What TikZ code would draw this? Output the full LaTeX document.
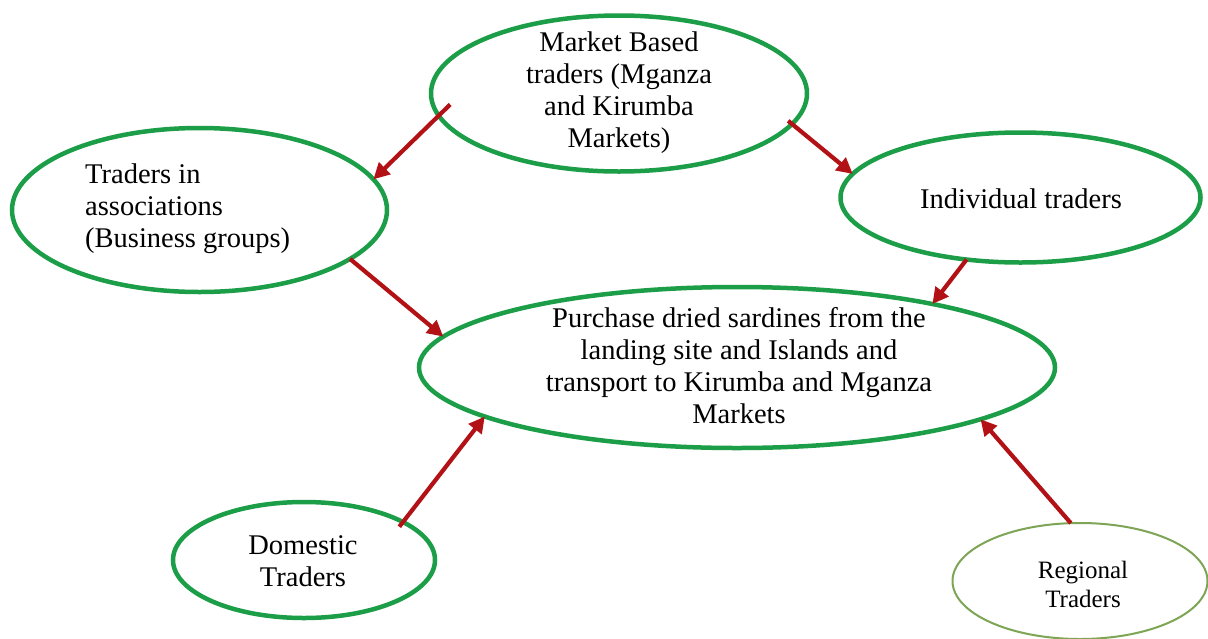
\documentclass[tikz,border=0pt]{standalone}
\usepackage{fontspec}
\setmainfont{Liberation Serif}
\usetikzlibrary{shapes.geometric,arrows.meta}
\definecolor{ovalgreen}{RGB}{28,158,72}
\definecolor{softgreen}{RGB}{125,165,85}
\definecolor{arrowred}{RGB}{178,18,22}
\begin{document}
\begin{tikzpicture}[x=1pt,y=-1pt,
  oval/.style={ellipse, draw=ovalgreen, line width=4.5pt, inner sep=0pt, outer sep=0pt},
  thinoval/.style={ellipse, draw=softgreen, line width=2pt, inner sep=0pt, outer sep=0pt},
  caption/.style={align=center, font=\rmfamily\fontsize{28.5}{32}\selectfont, inner sep=0pt},
  smallcaption/.style={align=center, font=\rmfamily\fontsize{25}{29}\selectfont, inner sep=0pt},
  flow/.style={draw=arrowred, line width=4.2pt, -{Triangle[length=16pt,width=16pt]}}]
\useasboundingbox (0,0) rectangle (1208,638);
\fill[white] (0,0) rectangle (1208,638);

% ellipses
\node[oval, minimum width=376pt, minimum height=156pt] (mkt) at (619,93.5) {};
\node[oval, minimum width=375pt, minimum height=164pt] (trd) at (199.5,210) {};
\node[oval, minimum width=360pt, minimum height=130pt] (ind) at (1020.5,197.5) {};
\node[oval, minimum width=636pt, minimum height=161pt] (pur) at (737,367.5) {};
\node[oval, minimum width=262pt, minimum height=116pt] (dom) at (304,560) {};
\node[thinoval, minimum width=255pt, minimum height=116pt] (reg) at (1080,581) {};

% texts
\node[caption] (mkt-t) at (619,93) {Market Based\\traders (Mganza\\and Kirumba\\Markets)};
\node[caption, align=left, anchor=west] (trd-t) at (85,209) {Traders in\\associations\\(Business groups)};
\node[caption] (ind-t) at (1021,199) {Individual traders};
\node[caption] (pur-t) at (739,366) {Purchase dried sardines from the\\landing site and Islands and\\transport to Kirumba and Mganza\\Markets};
\node[caption] (dom-t) at (303,561) {Domestic\\Traders};
\node[smallcaption] (reg-t) at (1083,584) {Regional\\Traders};

% arrows
\draw[flow, shorten <=-16pt] (mkt.187.8) -- (trd.10.8);
\draw[flow, shorten <=-5pt] (mkt.-10.4) -- (ind.172.3);
\draw[flow] (ind.229) -- (pur.18.4);
\draw[flow] (trd.-18.6) -- (pur.174.85);
\draw[flow, shorten <=-6pt] (dom.21.5) -- (pur.191.3);
\draw[flow] (reg.99.3) -- (pur.-12.7);
\end{tikzpicture}
\end{document}
